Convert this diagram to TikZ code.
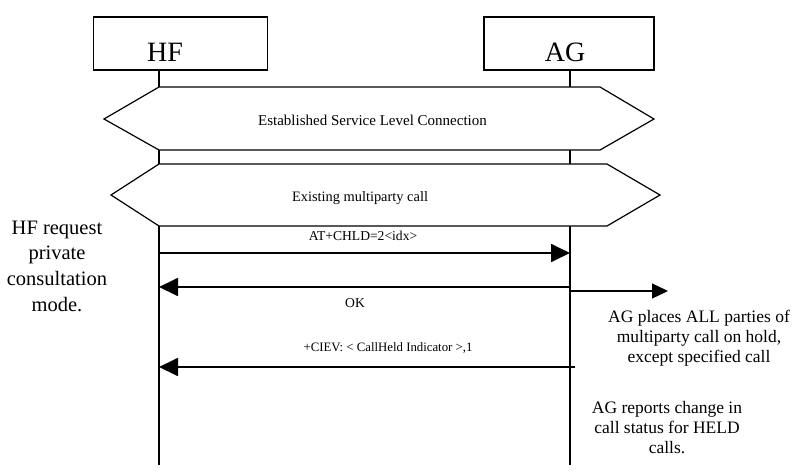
\documentclass[tikz,border=0pt]{standalone}
\usepackage{fontspec}
\setmainfont{Liberation Serif}
\usetikzlibrary{arrows.meta}
\begin{document}
\begin{tikzpicture}[x=1pt,y=-1pt,
  entbox/.style={draw, line width=1.2pt, inner sep=0pt},
  enttext/.style={anchor=base, inner sep=0pt, font=\fontsize{28}{30}\selectfont},
  lifeline/.style={line width=1.8pt},
  hexshape/.style={draw, fill=white, line width=1.2pt, line join=miter},
  hextext/.style={inner sep=0pt},
  msg/.style={line width=1.8pt, -{Triangle[length=19pt,width=18pt]}},
  selfmsg/.style={line width=1.2pt, -{Triangle[length=16pt,width=15pt]}},
  msgtext/.style={inner sep=0pt, font=\fontsize{13.6}{16}\selectfont},
  note/.style={inner sep=0pt, align=center}
]
\useasboundingbox (0,0) rectangle (803,474);
% entity boxes
\node[entbox, minimum width=174pt, minimum height=53pt] (hfbox) at (180.5,43.5) {};
\node[entbox, minimum width=170pt, minimum height=53pt] (agbox) at (569,43.5) {};
\node[enttext] (hflabel) at (165,61) {HF};
\node[enttext] (aglabel) at (565,61) {AG};
% lifelines
\coordinate (hftop) at (159,70);
\coordinate (hfbot) at (159,465);
\coordinate (agtop) at (570,70);
\coordinate (agbot) at (570,465);
\draw[lifeline] (hftop) -- (hfbot);
\draw[lifeline] (agtop) -- (agbot);
% hexagons
\draw[hexshape] (104,119) -- (159,87) -- (600,87) -- (654,119) -- (600,150) -- (159,150) -- cycle;
\node[hextext, font=\fontsize{15}{17}\selectfont] (slc) at (372.5,120) {Established Service Level Connection};
\draw[hexshape] (111,195) -- (159,164) -- (607,164) -- (660,195) -- (607,226) -- (159,226) -- cycle;
\node[hextext, font=\fontsize{14.4}{17}\selectfont] (mpc) at (360,198) {Existing multiparty call};
% messages
\coordinate (hf1) at (159,253);
\coordinate (ag1) at (570,253);
\draw[msg] (hf1) -- (ag1);
\node[msgtext] (m1) at (363,236) {AT+CHLD=2<idx>};
\coordinate (ag2) at (570,287);
\coordinate (hf2) at (159,287);
\draw[msg] (ag2) -- (hf2);
\node[msgtext] (m2) at (355,303) {OK};
\coordinate (ag3) at (570,291);
\coordinate (ext3) at (668,291);
\draw[selfmsg] (ag3) -- (ext3);
\coordinate (ag4) at (575,367);
\coordinate (hf4) at (159,367);
\draw[msg] (ag4) -- (hf4);
\node[msgtext, font=\fontsize{12.8}{16}\selectfont] (m4) at (388,348) {+CIEV: < CallHeld Indicator >,1};
% notes
\node[note, font=\fontsize{20.5}{25.7}\selectfont] (n1) at (57,266) {HF request\\private\\consultation\\mode.};
\node[note, font=\fontsize{17.5}{20}\selectfont] (n2) at (699,338) {AG places ALL parties of\\multiparty call on hold,\\except specified call};
\node[note, font=\fontsize{17.5}{20}\selectfont] (n3) at (667,428) {AG reports change in\\call status for HELD\\calls.};
\end{tikzpicture}
\end{document}
